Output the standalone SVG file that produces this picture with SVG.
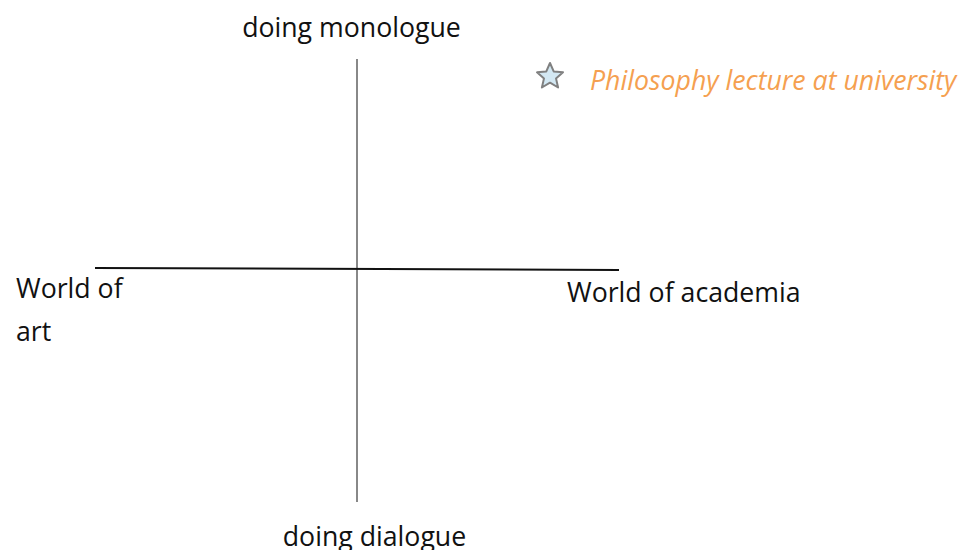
<svg xmlns="http://www.w3.org/2000/svg" width="968" height="550" viewBox="0 0 968 550">
<style>
text{font-family:"Open Sans","Noto Sans","DejaVu Sans",sans-serif;font-size:26.7px;fill:#111}
.note{font-style:italic;fill:#f5a050}
</style>
<rect width="968" height="550" fill="#fff"/>
<g id="connectors">
<line x1="357" y1="59" x2="357" y2="502" stroke="#888" stroke-width="2"/>
<line x1="95" y1="268" x2="619" y2="270" stroke="#111" stroke-width="2"/>
</g>
<g id="axis-top"><text x="351.5" y="36.5" text-anchor="middle">doing monologue</text></g>
<g id="axis-bottom"><text x="374.5" y="546" text-anchor="middle">doing dialogue</text></g>
<g id="axis-left"><text x="16" y="298">World of</text><text x="16" y="341">art</text></g>
<g id="axis-right"><text x="567" y="302">World of academia</text></g>
<g id="point-philosophy">
<polygon points="550,63 553.7,71.4 563,72.3 556,78.4 558.1,87.5 550,82.7 541.9,87.5 544,78.4 537,72.3 546.3,71.4" fill="#d3e8f3" stroke="#808080" stroke-width="2" stroke-linejoin="round"/>
<text class="note" x="590" y="89.5">Philosophy lecture at university</text>
</g>
</svg>
